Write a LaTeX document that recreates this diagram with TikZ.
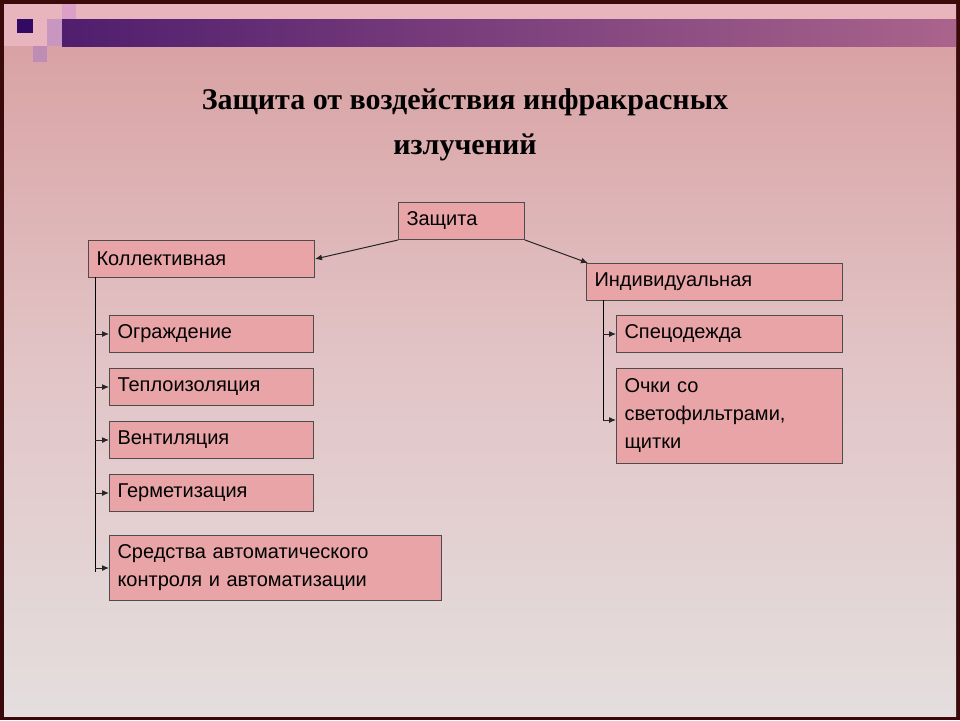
\documentclass[tikz,border=0pt]{standalone}
\usepackage{fontspec}
\setmainfont{Liberation Sans}
\newfontfamily\titlefont{Liberation Serif}
\usetikzlibrary{arrows.meta}
\definecolor{boxc}{HTML}{E8A4A6}
\definecolor{frm}{HTML}{3A0A0A}
\definecolor{bgtop}{RGB}{216,158,160}
\definecolor{bgmid}{RGB}{226,196,198}
\definecolor{bgbot}{RGB}{228,222,222}
\definecolor{band}{RGB}{232,180,190}
\definecolor{barl}{RGB}{80,30,110}
\definecolor{barr}{RGB}{170,100,140}
\definecolor{sqa}{RGB}{50,10,100}
\definecolor{sqb}{RGB}{200,150,190}
\definecolor{sqc}{RGB}{220,160,200}
\definecolor{sqd}{RGB}{190,140,180}
\begin{document}
\begin{tikzpicture}[x=1pt,y=-1pt,
  box/.style={draw=black!70,fill=boxc,line width=1pt,anchor=north west,inner sep=0pt,align=left,font=\fontsize{20}{28}\selectfont},
  arr/.style={-{Latex[length=7pt,width=6pt]},line width=1pt,black!85}]
\useasboundingbox (0,0) rectangle (960,720);
\fill[frm] (0,0) rectangle (960,720);
\shade[top color=bgtop,bottom color=bgbot,middle color=bgmid] (4,4) rectangle (956,716);
\fill[band] (4,4) rectangle (956,46);
\shade[left color=barl,right color=barr] (62,19) rectangle (956,46);
\fill[sqa] (17,19) rectangle (33,33);
\fill[sqb] (47,19) rectangle (62,46);
\fill[sqc] (62,4) rectangle (76,19);
\fill[sqd] (33,46) rectangle (47,62);
\node[font=\titlefont\bfseries\fontsize{30}{45}\selectfont,align=center] (t) at (465,125) {Защита от воздействия инфракрасных\\излучений};
\node[box,minimum width=120,minimum height=37,text width=110,inner xsep=8pt] (z) at (398,202) {Защита};
\node[box,minimum width=225,minimum height=37,text width=210,inner xsep=8pt] (k) at (88,240) {Коллективная};
\node[box,minimum width=256,minimum height=37,text width=240,inner xsep=8pt] (i) at (586,263) {Индивидуальная};
\foreach \n/\y/\t in {a/315/Ограждение,b/368/Теплоизоляция,c/421/Вентиляция,d/474/Герметизация}
  \node[box,minimum width=204,minimum height=37,text width=188,inner xsep=8pt] (\n) at (109,\y) {\t};
\node[box,minimum width=332,minimum height=65,text width=316,inner xsep=8pt] (e) at (109,535) {Средства автоматического\\контроля и автоматизации};
\node[box,minimum width=226,minimum height=95,text width=210,inner xsep=8pt] (o) at (616,368) {Очки со\\светофильтрами,\\щитки};
\node[box,minimum width=226,minimum height=37,text width=210,inner xsep=8pt] (s) at (616,315) {Спецодежда};
\draw[arr] (z.south west) -- (k.east);
\draw[arr] (z.south east) -- ([xshift=2pt]i.north west);
\coordinate (kl) at (95,277);
\draw[line width=1pt] (kl) -- (95,572);
\foreach \n in {a,b,c,d,e} \draw[arr] (kl |- \n.west) -- (\n.west);
\coordinate (il) at (603,300);
\coordinate (ib) at (603,420);
\draw[line width=1pt] (il) -- (ib);
\draw[arr] (il |- s.west) -- (s.west);
\draw[arr] (ib) -- (o.west |- ib);
\end{tikzpicture}
\end{document}
